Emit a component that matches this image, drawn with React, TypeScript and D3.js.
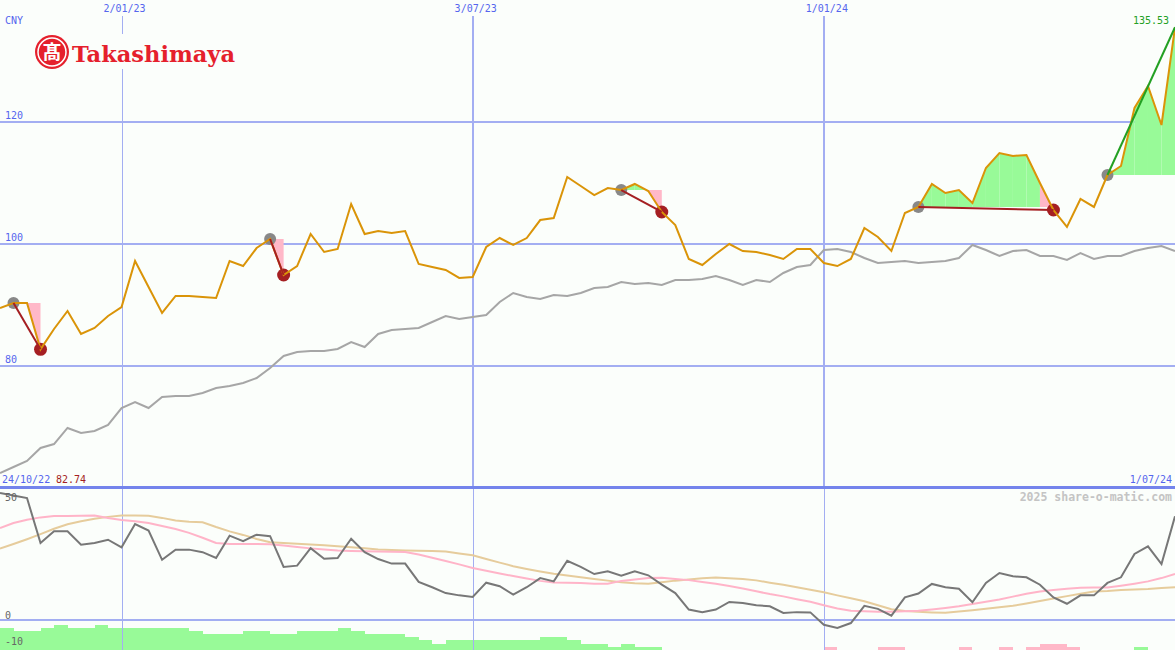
import React from "react";
import * as d3 from "d3";

// weekly closes, 31 Oct 2022 .. 1 Jul 2024
const startDate = new Date(2022, 9, 31);
const endDate = new Date(2024, 6, 1);
const weeks = d3.timeMonday.range(startDate, d3.timeDay.offset(endDate, 1));

const gridDates = [new Date(2023, 0, 2), new Date(2023, 6, 3), new Date(2024, 0, 1)];
const gridLabels = ["2/01/23", "3/07/23", "1/01/24"];
const gridWidths = [1, 2, 2];
const priceTicks = [80, 100, 120];

const price = [
  89.51, 90.33, 90.33, 82.74, 86.07, 89.02, 85.25, 86.23, 88.2, 89.67,
  97.21, 92.95, 88.69, 91.48, 91.48, 91.31, 91.15, 97.21, 96.39, 99.34,
  100.82, 94.92, 96.39, 101.64, 98.69, 99.18, 106.56, 101.64, 102.13, 101.8,
  102.13, 96.72, 96.23, 95.74, 94.43, 94.59, 99.51, 100.98, 99.84, 100.98,
  103.93, 104.26, 110.98, 109.51, 108.03, 109.18, 108.85, 109.84, 108.69, 105.25,
  103.11, 97.54, 96.56, 98.36, 100, 98.85, 98.69, 98.2, 97.54, 99.18,
  99.18, 96.89, 96.39, 97.54, 102.62, 101.15, 98.85, 105.08, 106.07, 109.84,
  108.36, 108.85, 106.72, 112.46, 114.92, 114.43, 114.59, 110, 105.57, 102.79,
  107.38, 106.07, 111.31, 112.79, 122.3, 125.9, 119.51, 135.53,
];

// relative strength vs market
const relative = [
  62.46, 63.44, 64.43, 66.56, 67.21, 69.84, 69.02, 69.34, 70.33, 73.11,
  74.1, 73.11, 74.92, 75.08, 75.08, 75.57, 76.39, 76.72, 77.21, 78.03,
  79.67, 81.64, 82.3, 82.46, 82.46, 82.79, 83.93, 83.11, 85.25, 85.9,
  86.07, 86.23, 87.21, 88.2, 87.7, 88.03, 88.36, 90.49, 91.97, 91.31,
  90.98, 91.64, 91.48, 91.97, 92.79, 92.95, 93.77, 93.44, 93.61, 93.28,
  94.1, 94.1, 94.26, 94.75, 94.1, 93.28, 94.1, 93.77, 95.25, 96.23,
  96.56, 99.02, 99.18, 98.69, 97.7, 96.89, 97.05, 97.21, 96.89, 97.05,
  97.21, 97.7, 99.84, 99.02, 98.03, 98.85, 99.02, 98.03, 98.03, 97.38,
  98.52, 97.54, 98.03, 98.03, 98.85, 99.34, 99.67, 98.85,
];

const oscillator = [
  50.0, 49.0, 48.0, 30.3, 34.9, 34.9, 29.6, 30.3, 31.6, 28.6,
  37.8, 35.2, 23.7, 27.7, 27.7, 26.7, 24.4, 33.2, 31.0, 33.6,
  33.0, 20.9, 21.4, 28.3, 24.1, 24.4, 32.0, 26.7, 24.0, 22.2,
  22.2, 15.0, 12.9, 10.6, 9.7, 9.1, 14.7, 13.3, 10.0, 12.9,
  16.5, 15.2, 23.3, 20.9, 18.1, 19.2, 17.4, 19.2, 17.6, 13.9,
  10.6, 4.1, 3.1, 4.1, 7.1, 6.7, 5.8, 5.4, 2.8, 3.1,
  3.0, -1.9, -3.1, -1.2, 5.6, 4.4, 1.7, 8.9, 10.4, 14.2,
  12.9, 12.3, 7.0, 14.6, 18.5, 17.2, 16.8, 13.9, 8.9, 6.4,
  9.7, 9.7, 14.6, 16.8, 26.0, 29.0, 22.0, 40.8,
];

const maFast = [
  36.2, 38.2, 39.5, 40.4, 40.9, 40.9, 41.0, 41.1, 40.2, 39.4,
  38.9, 38.2, 37.0, 35.8, 34.3, 32.4, 30.3, 29.9, 29.9, 29.9,
  29.8, 29.3, 28.7, 28.2, 27.8, 27.4, 27.2, 27.1, 27.0, 26.9,
  26.8, 25.8, 24.5, 23.2, 21.9, 20.5, 19.4, 18.3, 17.3, 16.3,
  15.4, 14.8, 14.7, 14.6, 14.3, 14.3, 15.4, 15.9, 16.5, 16.6,
  16.1, 15.7, 15.0, 14.3, 13.4, 12.4, 11.3, 10.2, 9.3, 8.2,
  7.2, 5.8, 4.5, 3.6, 3.4, 3.2, 3.2, 3.4, 3.6, 4.1,
  4.7, 5.4, 6.3, 7.2, 8.1, 9.2, 10.3, 11.2, 11.8, 12.3,
  12.7, 12.8, 12.8, 13.5, 14.3, 15.2, 16.5, 18.1,
];

const maSlow = [
  28.1, 29.9, 31.8, 33.8, 35.9, 37.7, 38.9, 39.9, 40.6, 41.1,
  41.1, 41.0, 40.2, 39.2, 38.7, 38.5, 36.6, 34.9, 33.5, 31.9,
  30.6, 30.3, 30.0, 29.7, 29.4, 29.0, 28.6, 28.2, 27.8, 27.6,
  27.4, 27.3, 27.2, 27.0, 26.2, 25.5, 24.0, 22.6, 21.2, 20.1,
  19.1, 18.2, 17.5, 16.8, 16.1, 15.5, 14.9, 14.5, 14.3, 14.9,
  15.5, 15.9, 16.4, 16.7, 16.4, 16.1, 15.6, 14.7, 13.9, 12.9,
  11.9, 10.9, 9.7, 8.6, 7.4, 5.8, 4.2, 3.5, 3.2, 3.0,
  2.9, 3.3, 3.8, 4.4, 5.0, 5.6, 6.5, 7.5, 8.5, 9.4,
  10.3, 11.2, 11.4, 11.8, 12.0, 12.2, 12.6, 12.9,
];

const histogram = [
  7, 6, 6, 7, 8, 7, 7, 8, 7, 7,
  7, 7, 7, 7, 6, 5, 5, 5, 6, 6,
  5, 5, 6, 6, 6, 7, 6, 5, 5, 5,
  4, 3, 2, 3, 3, 3, 3, 3, 3, 3,
  4, 4, 3, 2, 2, 1, 2, 1, 1, 0,
  0, 0, 0, 0, 0, 0, 0, 0, 0, 0,
  0, -1, 0, 0, 0, -1, -1, 0, 0, 0,
  0, -1, 0, 0, -1, 0, -1, -2, -2, -1,
  0, 0, 0, 0, 1, 0, 0, 0,
];

// [buy week, sell week]
const closedTrades = [[1, 3], [20, 21], [46, 49], [68, 78]];
const openTrade = [82, 87];

const W = 1175;
const H = 650;
const mono = "'DejaVu Sans Mono', monospace";
const gridBlue = "#a3aef2";
const labelBlue = "#5566ee";
const GREEN_FILL = "#98fa98";
const PINK_FILL = "#ffb8c8";
const BG = "#fbfefb";

const App = () => {
  const x = d3.scaleTime().domain([startDate, endDate]).range([0, W]);
  const y = d3.scaleLinear().domain([60, 140]).range([488, 0]);
  const yLow = d3.scaleLinear().domain([0, 50]).range([620, 493]);
  const hScale = d3.scaleLinear().domain([0, 8]).range([0, 25.4]);

  const idx = weeks.map((_, i) => i);
  const lineOf = (vals: number[], ys: d3.ScaleLinear<number, number>) =>
    d3
      .line<number>()
      .x((i) => x(weeks[i]))
      .y((i) => ys(vals[i]))(idx) || "";

  const segArea = (level: number, a: number) =>
    d3
      .area<number>()
      .x((i) => x(weeks[i]))
      .y0(y(level))
      .y1((i) => y(price[i]))([a, a + 1]) || "";

  const fills: { d: string; c: string }[] = [];
  closedTrades.forEach(([b, s]) => {
    for (let k = b; k < s; k++) {
      fills.push({ d: segArea(price[b], k), c: k === s - 1 ? PINK_FILL : GREEN_FILL });
    }
  });
  for (let k = openTrade[0]; k < openTrade[1]; k++) {
    fills.push({ d: segArea(price[openTrade[0]], k), c: GREEN_FILL });
  }

  const step = x(weeks[1]) - x(weeks[0]);
  const last = price.length - 1;
  const px = (v: number) => Math.round(v) + 0.5;

  return (
    <svg
      width={W}
      height={H}
      style={{ position: "absolute", left: 0, top: 0, background: BG }}
    >
      <rect x={0} y={0} width={W} height={H} fill={BG} />

      {/* histogram */}
      {histogram.map((v, i) =>
        v === 0 ? null : (
          <rect
            key={"h" + i}
            x={Math.round(x(weeks[i]))}
            y={Math.round(H - hScale(Math.abs(v)))}
            width={Math.round(x(weeks[i]) + step) - Math.round(x(weeks[i]))}
            height={Math.round(hScale(Math.abs(v)))}
            fill={v > 0 ? GREEN_FILL : PINK_FILL}
          />
        ),
      )}

      {/* grid */}
      <g shapeRendering="crispEdges">
        {priceTicks.map((t) => (
          <line key={"g" + t} x1={0} x2={W} y1={Math.round(y(t))} y2={Math.round(y(t))} stroke={gridBlue} strokeWidth={2} />
        ))}
        <line x1={0} x2={W} y1={Math.round(yLow(0))} y2={Math.round(yLow(0))} stroke={gridBlue} strokeWidth={2} />
        {gridDates.map((d, i) => {
          const gx = gridWidths[i] === 1 ? px(x(d)) : Math.round(x(d));
          return (
            <g key={"v" + i}>
              <line x1={gx} x2={gx} y1={16} y2={487} stroke={gridBlue} strokeWidth={gridWidths[i]} />
              <line x1={px(x(d))} x2={px(x(d))} y1={489} y2={H} stroke={gridBlue} strokeWidth={1} />
            </g>
          );
        })}
        <line x1={0} x2={W} y1={487.5} y2={487.5} stroke="#7484ec" strokeWidth={3} />
      </g>
      {gridDates.map((d, i) => (
        <text key={"vt" + i} x={x(d) + 3} y={12} textAnchor="middle" fontFamily={mono} fontSize={10} fill={labelBlue}>
          {gridLabels[i]}
        </text>
      ))}

      {/* trade fills */}
      {fills.map((f, i) => (
        <path key={"f" + i} d={f.d} fill={f.c} />
      ))}

      {/* relative line */}
      <path d={lineOf(relative, y)} fill="none" stroke="#a6a6a6" strokeWidth={2} />

      {/* lower panel */}
      <path d={lineOf(maSlow, yLow)} fill="none" stroke="#e6cc9c" strokeWidth={2} />
      <path d={lineOf(maFast, yLow)} fill="none" stroke="#ffb4c8" strokeWidth={2} />
      <path d={lineOf(oscillator, yLow)} fill="none" stroke="#777777" strokeWidth={2} />

      {/* trade markers */}
      {closedTrades.map(([b, s], i) => (
        <g key={"t" + i}>
          <circle cx={x(weeks[b])} cy={y(price[b])} r={6} fill="#888888" />
          <circle cx={x(weeks[s])} cy={y(price[s])} r={6.5} fill="#a51f22" />
        </g>
      ))}
      <circle cx={x(weeks[openTrade[0]])} cy={y(price[openTrade[0]])} r={6} fill="#888888" />

      {/* price */}
      <path d={lineOf(price, y)} fill="none" stroke="#da9408" strokeWidth={2} />

      {closedTrades.map(([b, s], i) => (
        <line
          key={"tl" + i}
          x1={x(weeks[b])}
          y1={y(price[b])}
          x2={x(weeks[s])}
          y2={y(price[s])}
          stroke="#a51f22"
          strokeWidth={2}
        />
      ))}
      <line
        x1={x(weeks[openTrade[0]])}
        y1={y(price[openTrade[0]])}
        x2={x(weeks[openTrade[1]])}
        y2={y(price[openTrade[1]])}
        stroke="#23a023"
        strokeWidth={2}
      />

      {/* labels */}
      <text x={5} y={24} fontFamily={mono} fontSize={10} fill={labelBlue}>CNY</text>
      {priceTicks.map((t) => (
        <text key={"l" + t} x={5} y={y(t) - 3} fontFamily={mono} fontSize={10} fill={labelBlue}>
          {t}
        </text>
      ))}
      <text x={1169} y={24} textAnchor="end" fontFamily={mono} fontSize={10} fill="#23a023">
        {price[last].toFixed(2)}
      </text>
      <text x={2} y={483} fontFamily={mono} fontSize={10} fill={labelBlue}>24/10/22</text>
      <text x={56} y={483} fontFamily={mono} fontSize={10} fill="#a51f22">
        {d3.min(price)!.toFixed(2)}
      </text>
      <text x={1172} y={483} textAnchor="end" fontFamily={mono} fontSize={10} fill={labelBlue}>1/07/24</text>
      <text x={1172} y={501} textAnchor="end" fontFamily={mono} fontSize={11.5} fontWeight="bold" fill="#c4c4c4">
        2025 share-o-matic.com
      </text>
      <text x={5} y={501} fontFamily={mono} fontSize={10} fill="#666">50</text>
      <text x={5} y={619} fontFamily={mono} fontSize={10} fill="#666">0</text>
      <text x={5} y={645} fontFamily={mono} fontSize={10} fill="#666">-10</text>

      {/* logo */}
      <g>
        <rect x={30} y={34} width={210} height={35} fill={BG} />
        <circle cx={52} cy={52} r={17} fill="#e5202c" />
        <circle cx={52} cy={52} r={14} fill="none" stroke="#fff" strokeWidth={1.5} />
        <text
          x={52}
          y={59}
          textAnchor="middle"
          fontFamily="'Noto Sans CJK JP', sans-serif"
          fontWeight="bold"
          fontSize={19}
          fill="#fff"
        >
          髙
        </text>
        <text
          x={72}
          y={62}
          fontFamily="'DejaVu Serif', serif"
          fontWeight="bold"
          fontSize={22}
          textLength={163}
          lengthAdjust="spacingAndGlyphs"
          fill="#e5202c"
        >
          Takashimaya
        </text>
      </g>
    </svg>
  );
};

export default App;
